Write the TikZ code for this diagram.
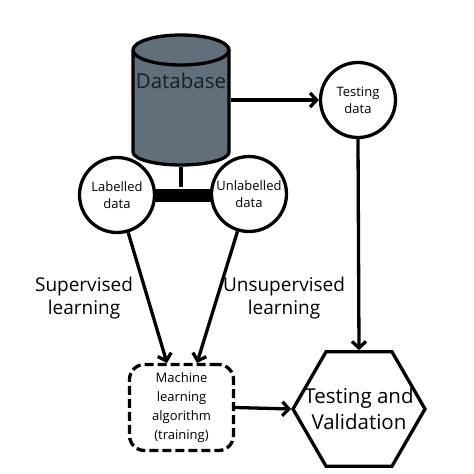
\documentclass[tikz,border=0pt]{standalone}
\usepackage{fontspec}
\setmainfont{Open Sans}
\usetikzlibrary{arrows.meta,shapes.geometric,calc}
\definecolor{dbfill}{RGB}{96,111,121}
\definecolor{dbtext}{RGB}{22,32,40}
\begin{document}
\begin{tikzpicture}[x=1pt,y=-1pt,
  line width=3.3pt,
  arr/.style={-{Straight Barb[length=6.5pt,width=14pt,line width=3.3pt]}},
  datacircle/.style={circle,draw,minimum size=75pt,inner sep=0pt,align=center,font=\fontsize{13}{17}\selectfont},
  biglabel/.style={align=center,font=\fontsize{19}{23}\selectfont},
  bigtext/.style={align=center,font=\fontsize{20.5}{26}\selectfont}]
\useasboundingbox (0,0) rectangle (474,474);
% Database cylinder
\fill[dbfill] (133,50) -- (133,152) arc[start angle=180,end angle=0,x radius=48,y radius=13] -- (229,50) -- cycle;
\draw (133,50) -- (133,152) arc[start angle=180,end angle=0,x radius=48,y radius=13] -- (229,50);
\draw[fill=dbfill] (181,50) ellipse[x radius=48,y radius=15];
\node[minimum width=96pt,minimum height=130pt,inner sep=0pt,anchor=center] (db) at (181,100) {};
\node[bigtext,text=dbtext] (dbl) at (181,81) {Database};
% data circles
\node[datacircle] (lab) at (117,195) {Labelled\\data};
\node[datacircle] (unl) at (249,194) {Unlabelled\\data};
\node[datacircle] (test) at (358,100) {Testing\\data};
% bar
\node[fill=black,minimum width=58pt,minimum height=13pt,inner sep=0pt] (bar) at (183,195) {};
\draw (db.south) -- (db.south |- bar.north);
% machine learning box
\node[draw,dash pattern=on 9pt off 4pt,rounded corners=15pt,minimum width=104pt,minimum height=86pt,align=center,font=\fontsize{13}{19}\selectfont] (ml) at (181.5,407.5) {Machine\\learning\\algorithm\\(training)};
% hexagon
\node[regular polygon,regular polygon sides=6,draw,minimum size=132pt,inner sep=0pt] (hex) at (359,409) {};
\node[bigtext] (hext) at (hex.center) {Testing and\\Validation};
% connectors
\coordinate (in1) at (167,363);
\coordinate (in2) at (197,363);
\draw[arr] (lab) -- (in1);
\draw[arr] (unl) -- (in2);
\draw[arr] (db.east) -- (test.west);
\draw[arr] (test.south) -- (hex.north);
\draw[arr] (ml.east) -- (hex.west);
% labels
\node[biglabel] (sup) at (84,298) {Supervised\\learning};
\node[biglabel] (uns) at (284,298) {Unsupervised\\learning};
\end{tikzpicture}
\end{document}
